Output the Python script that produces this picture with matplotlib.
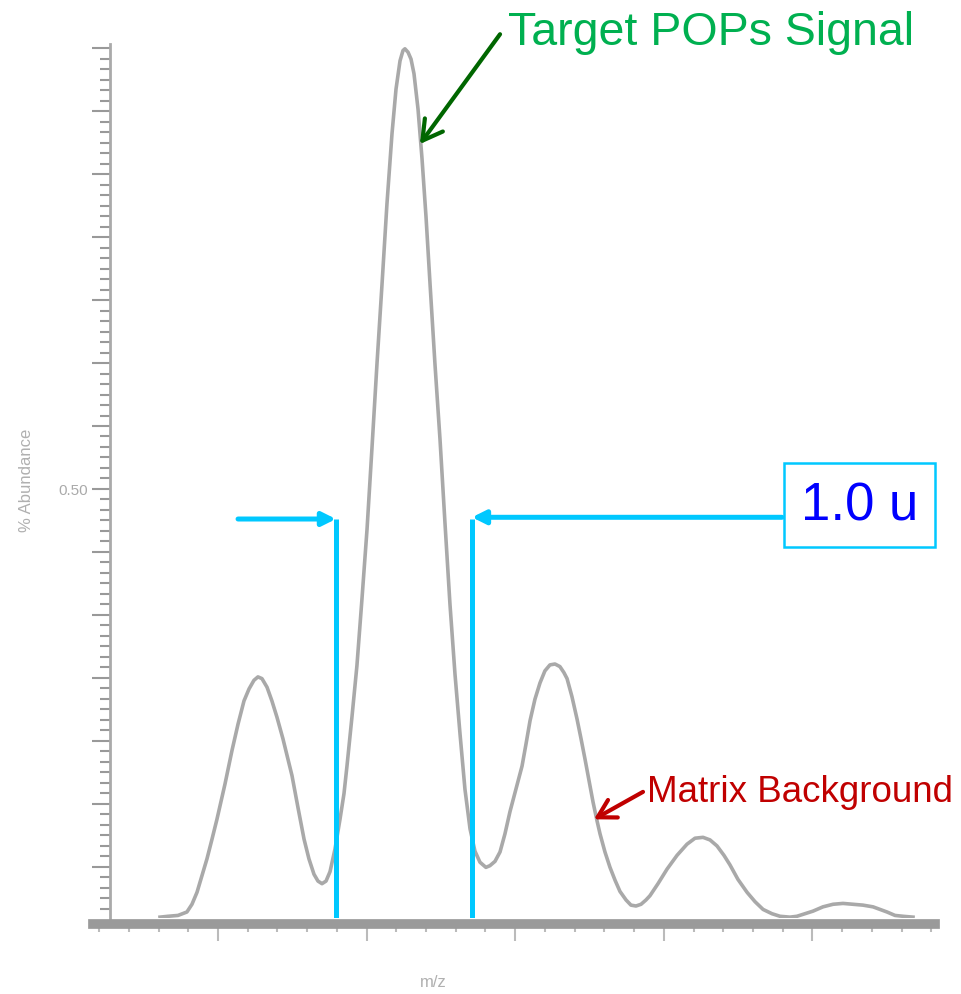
import numpy as np
import matplotlib.pyplot as plt
from matplotlib.ticker import MultipleLocator, FixedLocator, FuncFormatter

plt.rcParams['font.family'] = ['Liberation Sans', 'DejaVu Sans']

# spectrum trace (m/z in tick units, relative abundance)
mz = [-0.390, -0.336, -0.269, -0.209, -0.175, -0.141, -0.108, -0.074, -0.040, -0.007,
      0.047, 0.094, 0.135, 0.175, 0.209, 0.242, 0.269, 0.296, 0.330, 0.363,
      0.397, 0.437, 0.498, 0.538, 0.579, 0.612, 0.646, 0.673, 0.700, 0.727,
      0.754, 0.787, 0.821, 0.848, 0.868, 0.902, 0.935, 0.969, 1.003, 1.036,
      1.070, 1.104, 1.137, 1.171, 1.198, 1.225, 1.245, 1.258, 1.279, 1.299,
      1.319, 1.346, 1.373, 1.400, 1.427, 1.460, 1.494, 1.528, 1.561, 1.595,
      1.629, 1.662, 1.696, 1.729, 1.763, 1.803, 1.830, 1.864, 1.898, 1.931,
      1.965, 2.005, 2.046, 2.073, 2.100, 2.133, 2.167, 2.200, 2.234, 2.268,
      2.301, 2.328, 2.349, 2.382, 2.416, 2.443, 2.470, 2.497, 2.524, 2.551,
      2.571, 2.604, 2.638, 2.672, 2.705, 2.746, 2.779, 2.813, 2.847, 2.880,
      2.907, 2.961, 3.022, 3.089, 3.156, 3.210, 3.264, 3.311, 3.358, 3.405,
      3.445, 3.499, 3.560, 3.614, 3.668, 3.728, 3.782, 3.849, 3.896, 3.950,
      4.004, 4.071, 4.139, 4.206, 4.273, 4.340, 4.408, 4.455, 4.502, 4.556,
      4.610, 4.677]
abundance = [0.001, 0.002, 0.003, 0.007, 0.016, 0.030, 0.049, 0.069, 0.092, 0.115,
             0.156, 0.195, 0.226, 0.253, 0.267, 0.277, 0.281, 0.279, 0.269, 0.253,
             0.234, 0.209, 0.166, 0.129, 0.092, 0.069, 0.051, 0.043, 0.040, 0.043,
             0.054, 0.080, 0.115, 0.145, 0.177, 0.235, 0.294, 0.372, 0.453, 0.547,
             0.646, 0.739, 0.832, 0.914, 0.966, 0.999, 1.011, 1.013, 1.009, 1.001,
             0.984, 0.943, 0.885, 0.817, 0.739, 0.646, 0.558, 0.459, 0.366, 0.284,
             0.214, 0.150, 0.104, 0.078, 0.065, 0.059, 0.061, 0.066, 0.077, 0.098,
             0.124, 0.150, 0.177, 0.203, 0.230, 0.255, 0.274, 0.288, 0.295, 0.296,
             0.293, 0.286, 0.279, 0.258, 0.232, 0.209, 0.185, 0.160, 0.135, 0.113,
             0.098, 0.077, 0.059, 0.044, 0.031, 0.021, 0.015, 0.014, 0.016, 0.021,
             0.026, 0.040, 0.057, 0.073, 0.086, 0.093, 0.094, 0.091, 0.084, 0.073,
             0.062, 0.045, 0.030, 0.019, 0.010, 0.005, 0.002, 0.001, 0.002, 0.005,
             0.008, 0.013, 0.016, 0.017, 0.016, 0.015, 0.013, 0.010, 0.007, 0.003,
             0.002, 0.001]

# peak width marker
fwhm_left, fwhm_right, half_height = 0.794, 1.709, 0.465
width_label = '1.0 u'

cyan = '#00C8FF'

fig = plt.figure(figsize=(9.61, 9.95), dpi=100)
ax = fig.add_axes([93 / 961, 1 - 919 / 995, (935 - 93) / 961, (919 - 45) / 995])

ax.plot(mz, abundance, color='#a9a9a9', lw=2.6, solid_joinstyle='round')
ax.set_xlim(-0.841, 4.825)
ax.set_ylim(0, 1.0186)

for s in ['top', 'right']:
    ax.spines[s].set_visible(False)
ax.spines['left'].set_position(('data', -0.727))
ax.spines['left'].set_color('#aaaaaa')
ax.spines['left'].set_linewidth(2)
ax.spines['bottom'].set_position(('outward', 4.3))
ax.spines['bottom'].set_color('#9a9a9a')
ax.spines['bottom'].set_linewidth(7)

ax.xaxis.set_major_locator(MultipleLocator(1))
ax.xaxis.set_minor_locator(MultipleLocator(0.2))
ax.tick_params(axis='x', which='major', direction='out', length=12, width=1.5,
               color='#bbbbbb', labelbottom=False)
ax.tick_params(axis='x', which='minor', direction='out', length=6, width=1.5,
               color='#bbbbbb')

step = 0.0734
ax.yaxis.set_major_locator(FixedLocator(0.5 + step * np.arange(-6, 8)))
ax.yaxis.set_minor_locator(FixedLocator(0.5 + step / 6 * np.arange(-40, 45)))
ax.yaxis.set_major_formatter(FuncFormatter(lambda v, p: '0.50' if abs(v - 0.5) < 1e-6 else ''))
ax.tick_params(axis='y', which='major', direction='out', length=13, width=1.5,
               color='#999999', labelsize=11, labelcolor='#aaaaaa', pad=3)
ax.tick_params(axis='y', which='minor', direction='out', length=7, width=1.5,
               color='#999999')

# width bracket
ax.vlines([fwhm_left, fwhm_right], 0, half_height, colors=cyan, lw=3.6)
ax.annotate('', xy=(fwhm_left, half_height), xytext=(0.135, half_height),
            arrowprops=dict(arrowstyle='-|>', color=cyan, lw=3.6,
                            mutation_scale=20, shrinkA=0, shrinkB=0))
ax.annotate('', xy=(fwhm_right, half_height + 0.002), xytext=(3.795, half_height + 0.002),
            arrowprops=dict(arrowstyle='-|>', color=cyan, lw=3.6,
                            mutation_scale=20, shrinkA=0, shrinkB=0))
ax.text(4.320, 0.481, width_label, fontsize=38, color='#0000FF', ha='center', va='center',
        bbox=dict(boxstyle='square,pad=0.32', fc='white', ec=cyan, lw=1.8))

# callouts
ax.annotate('', xy=(1.359, 0.902), xytext=(1.898, 1.030), annotation_clip=False,
            arrowprops=dict(arrowstyle='->,head_length=0.7,head_width=0.4', color='#006600',
                            lw=3, mutation_scale=20, shrinkA=0, shrinkB=0))
fig.text(508 / 961, 1 - 45 / 995, 'Target POPs Signal', fontsize=33.5, color='#00B050',
         va='baseline', ha='left')

ax.annotate('', xy=(2.530, 0.115), xytext=(2.860, 0.147),
            arrowprops=dict(arrowstyle='->,head_length=0.7,head_width=0.4', color='#C00000',
                            lw=3, mutation_scale=18, shrinkA=0, shrinkB=0))
fig.text(647 / 961, 1 - 802 / 995, 'Matrix Background', fontsize=26.5, color='#C00000',
         va='baseline', ha='left')

fig.text(27 / 961, 1 - 480 / 995, '% Abundance', rotation=90, fontsize=12,
         color='#b0b0b0', ha='center', va='center')
fig.text(433 / 961, 1 - 983 / 995, 'm/z', fontsize=12, color='#b0b0b0',
         ha='center', va='center')

fig.savefig('out.png', dpi=100)
